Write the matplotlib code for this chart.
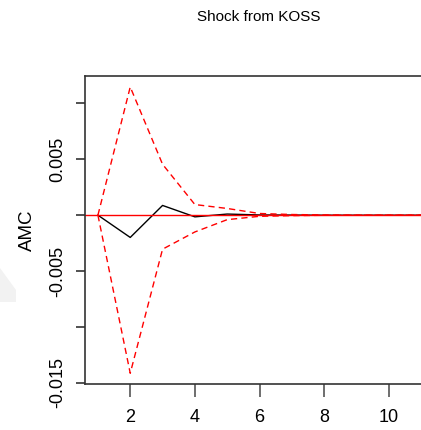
import matplotlib.pyplot as plt
import numpy as np
from matplotlib.patches import Polygon

# impulse response of AMC to a KOSS shock, with bootstrap bands
steps = np.arange(1, 12)
irf = [0.0, -0.00199, 0.00087, -0.00015, 0.0001, 0.00002, 0.00001, 0.0, 0.0, 0.0, 0.0]
upper = [0.0, 0.01146, 0.00455, 0.00095, 0.0006, 0.00015, 0.00006, 0.00002, 0.0, 0.0, 0.0]
lower = [0.0, -0.01413, -0.00304, -0.0015, -0.0004, -0.0001, -0.00004, -0.00001, 0.0, 0.0, 0.0]
xticks = [2, 4, 6, 8, 10]
yticks = [-0.015, -0.01, -0.005, 0.0, 0.005, 0.01]
ytick_labels = ['-0.015', '', '-0.005', '', '0.005', '']

plt.rcParams['font.family'] = ['Liberation Sans', 'DejaVu Sans']

fig = plt.figure(figsize=(4.21, 4.30), dpi=100)
ax = fig.add_axes([85 / 421, 46 / 430, 349 / 421, 308 / 430])

ax.plot(steps, irf, color='black', lw=1.0)
ax.plot(steps, upper, color='red', lw=1.0, ls=(0, (4.5, 3)))
ax.plot(steps, lower, color='red', lw=1.0, ls=(0, (4.5, 3)))
ax.axhline(0, color='red', lw=1.0)

ax.set_xlim(0.6, 11.4)
ax.set_ylim(-0.01509, 0.01244)
ax.set_xticks(xticks)
ax.set_yticks(yticks)
ax.set_yticklabels(ytick_labels, rotation=90, va='center')
ax.tick_params(axis='x', length=9, width=1.2, pad=9, labelsize=13, color='#555555')
ax.tick_params(axis='y', length=6.5, width=1.2, pad=7, labelsize=13, color='#333333')
for s in ax.spines.values():
    s.set_linewidth(1.2)
    s.set_color('#333333')

ax.set_ylabel('AMC', fontsize=13.5)
ax.yaxis.set_label_coords(-0.14, 0.5)
fig.text(259 / 421, 1 - 17 / 430, 'Shock from KOSS', ha='center', va='center', fontsize=11)

# faint logo mark at the left edge
fig.patches.append(Polygon([(0, 1 - 302 / 430), (16 / 421, 1 - 302 / 430), (16 / 421, 1 - 290 / 430), (0, 1 - 268 / 430)],
                           closed=True, transform=fig.transFigure, facecolor='#f2f2f2', edgecolor='none', zorder=0))

plt.savefig('out.png', dpi=100)
